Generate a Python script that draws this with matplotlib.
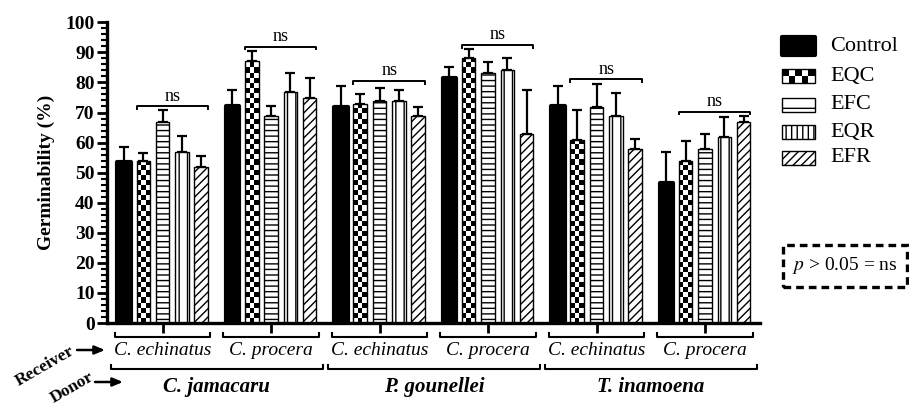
import math

import matplotlib
matplotlib.use("Agg")
import matplotlib.pyplot as plt
from matplotlib.patches import Rectangle
from matplotlib.ticker import MultipleLocator

plt.rcParams["font.family"] = ["Liberation Serif", "DejaVu Serif"]
plt.rcParams["mathtext.fontset"] = "stix"
plt.rcParams["hatch.linewidth"] = 1.0

# --- data (germinability %, mean and upper SD) ---
TREATMENTS = ["Control", "EQC", "EFC", "EQR", "EFR"]
DONORS = ["C. jamacaru", "P. gounellei", "T. inamoena"]
RECEIVERS = ["C. echinatus", "C. procera"]

control = [53.4, 72.1, 71.9, 81.4, 72.0, 46.4]
eqc = [54.0, 87.0, 72.8, 88.2, 60.8, 53.9]
efc = [66.8, 68.8, 73.9, 83.2, 71.9, 58.0]
eqr = [56.9, 76.8, 73.9, 84.0, 68.8, 61.9]
efr = [51.9, 74.9, 68.8, 62.8, 58.0, 66.7]

control_sd = [5.2, 5.4, 6.8, 3.6, 6.7, 10.5]
eqc_sd = [2.6, 3.5, 3.5, 2.8, 10.2, 6.7]
efc_sd = [4.0, 3.5, 4.1, 3.6, 7.7, 5.0]
eqr_sd = [5.2, 6.2, 3.5, 4.0, 7.8, 6.7]
efr_sd = [3.8, 6.7, 3.1, 14.8, 3.3, 2.1]

ns_level = [72.0, 91.8, 80.4, 92.4, 81.0, 70.2]

means = [control, eqc, efc, eqr, efr]
sds = [control_sd, eqc_sd, efc_sd, eqr_sd, efr_sd]

# --- styles ---
HATCHES = [None, "checker", "---", "||", "////"]
LEGEND_HATCHES = [None, "checker", "-", "|||", "////"]
GROUP_STEP = 5.62
BAR_W = 0.7
CHECK_H = 1.7
n_groups = len(control)


def draw_checker(ax, x0, y0, w, h, ncols, cell_h, lw=1.0, z=3):
    cw = w / ncols
    nrows = math.ceil(h / cell_h)
    for r in range(nrows):
        ch = min(cell_h, h - r * cell_h)
        for c in range(ncols):
            if (r + c) % 2 == 1:
                ax.add_patch(Rectangle((x0 + c * cw, y0 + r * cell_h), cw, ch,
                                       facecolor="black", edgecolor="none",
                                       clip_on=False, zorder=z))
    ax.add_patch(Rectangle((x0, y0), w, h, facecolor="none", edgecolor="black",
                           linewidth=lw, clip_on=False, zorder=z))


fig = plt.figure(figsize=(9.09, 4.08), dpi=100)
ax = fig.add_axes([107 / 909, 85 / 408, 653 / 909, 300.7 / 408])

group_x = [g * GROUP_STEP for g in range(n_groups)]

for i, (vals, err) in enumerate(zip(means, sds)):
    xs = [gx + i for gx in group_x]
    ax.errorbar(xs, vals, yerr=[[0] * len(vals), err], fmt="none",
                ecolor="black", elinewidth=1.6, capsize=3.5, capthick=1.6,
                zorder=1)
    if i == 0:
        bars = ax.bar(xs, vals, width=BAR_W, color="black", edgecolor="black",
                      linewidth=3.0, zorder=2)
        for b in bars:
            b.set_joinstyle("round")
    elif HATCHES[i] == "checker":
        for x, v in zip(xs, vals):
            ax.add_patch(Rectangle((x - BAR_W / 2, 0), BAR_W, v,
                                   facecolor="white", edgecolor="none", zorder=2))
            draw_checker(ax, x - BAR_W / 2, 0, BAR_W, v, 3, CHECK_H)
    else:
        ax.bar(xs, vals, width=BAR_W, color="white", edgecolor="black",
               linewidth=1.0, hatch=HATCHES[i], zorder=2)

# ns brackets over the four treatments
for gx, lvl in zip(group_x, ns_level):
    xa, xb = gx + 1 - BAR_W / 2, gx + 4 + BAR_W / 2
    ax.plot([xa, xa, xb, xb], [lvl - 0.8, lvl, lvl, lvl - 0.8],
            color="black", lw=1.4, clip_on=False)
    ax.text((xa + xb) / 2, lvl + 0.6, "ns", ha="center", va="bottom",
            fontsize=13)

# axes
ax.set_xlim(-0.88, 32.95)
ax.set_ylim(0, 100)
ax.spines["top"].set_visible(False)
ax.spines["right"].set_visible(False)
ax.spines["left"].set_linewidth(2.4)
ax.spines["bottom"].set_linewidth(2.4)
ax.spines["bottom"].set_zorder(4)
ax.yaxis.set_major_locator(MultipleLocator(10))
ax.yaxis.set_minor_locator(MultipleLocator(2))
ax.tick_params(axis="y", which="major", direction="out", length=7, width=2,
               labelsize=14, pad=2)
ax.tick_params(axis="y", which="minor", direction="out", length=4, width=1.5)
for lab in ax.get_yticklabels():
    lab.set_fontweight("bold")
centers = [gx + 2 for gx in group_x]
ax.set_xticks(centers)
ax.set_xticklabels([])
ax.tick_params(axis="x", direction="out", length=7, width=2)
ax.set_ylabel("Germinability (%)", fontsize=14, fontweight="bold")
ax.yaxis.set_label_coords(-0.08, 0.5)

# receiver brackets and labels
for g, c in enumerate(centers):
    xa, xb = c - 2.47, c + 2.47
    ax.plot([xa, xa, xb, xb], [-3.3, -4.7, -4.7, -3.3], color="black",
            lw=1.5, clip_on=False)
    ax.text(c, -9.3, RECEIVERS[g % 2], ha="center", va="center",
            fontsize=14, style="italic", clip_on=False)

# donor brackets and labels
for d, name in enumerate(DONORS):
    mid = (centers[2 * d] + centers[2 * d + 1]) / 2
    xa, xb = mid - 5.5, mid + 5.5
    ax.plot([xa, xa, xb, xb], [-14.0, -15.3, -15.3, -14.0], color="black",
            lw=1.5, clip_on=False)
    ax.text(mid, -21.3, name, ha="center", va="center", fontsize=15,
            style="italic", fontweight="bold", clip_on=False)

# Receiver / Donor side labels with arrows
fig.text(45 / 909, 1 - 366 / 408, "Receiver", rotation=30, ha="center",
         va="center", fontsize=12.5, fontweight="bold")
fig.text(72 / 909, 1 - 388 / 408, "Donor", rotation=30, ha="center",
         va="center", fontsize=12.5, fontweight="bold")
arrow = dict(arrowstyle="-|>,head_length=0.6,head_width=0.25", color="black",
             lw=1.8, shrinkA=0, shrinkB=0)
ax.annotate("", xy=(105 / 909, 1 - 350 / 408), xytext=(77 / 909, 1 - 350 / 408),
            xycoords="figure fraction", textcoords="figure fraction",
            arrowprops=arrow)
ax.annotate("", xy=(123 / 909, 1 - 382 / 408), xytext=(95 / 909, 1 - 382 / 408),
            xycoords="figure fraction", textcoords="figure fraction",
            arrowprops=arrow)

# legend drawn by hand
leg_x, leg_w = 34.1, 1.7
row_y = [92.1, 82.1, 72.5, 63.5, 54.9]
for i, (name, yc) in enumerate(zip(TREATMENTS, row_y)):
    h = 4.7
    if i == 0:
        p = Rectangle((leg_x, yc - 3.0), leg_w, 6.0, facecolor="black",
                      edgecolor="black", linewidth=3.0, clip_on=False)
        p.set_joinstyle("round")
        ax.add_patch(p)
    elif LEGEND_HATCHES[i] == "checker":
        ax.add_patch(Rectangle((leg_x, yc - h / 2), leg_w, h, facecolor="white",
                               edgecolor="none", clip_on=False))
        draw_checker(ax, leg_x, yc - h / 2, leg_w, h, 5, h / 2)
    else:
        ax.add_patch(Rectangle((leg_x, yc - h / 2), leg_w, h, facecolor="white",
                               edgecolor="black", linewidth=1.0,
                               hatch=LEGEND_HATCHES[i], clip_on=False))
    ax.text(36.58, yc, name, ha="left", va="center", fontsize=16,
            clip_on=False)

# p-value note box
fig.patches.append(Rectangle((783 / 909, 121 / 408), 124 / 909, 42 / 408,
                             transform=fig.transFigure, fill=False,
                             edgecolor="black", linewidth=2.4,
                             linestyle=(0, (2.3, 1.5))))
fig.text(845 / 909, 1 - 266 / 408, "$p$ > 0.05 = ns", ha="center",
         va="center", fontsize=14)

fig.savefig("out.png", dpi=100)
